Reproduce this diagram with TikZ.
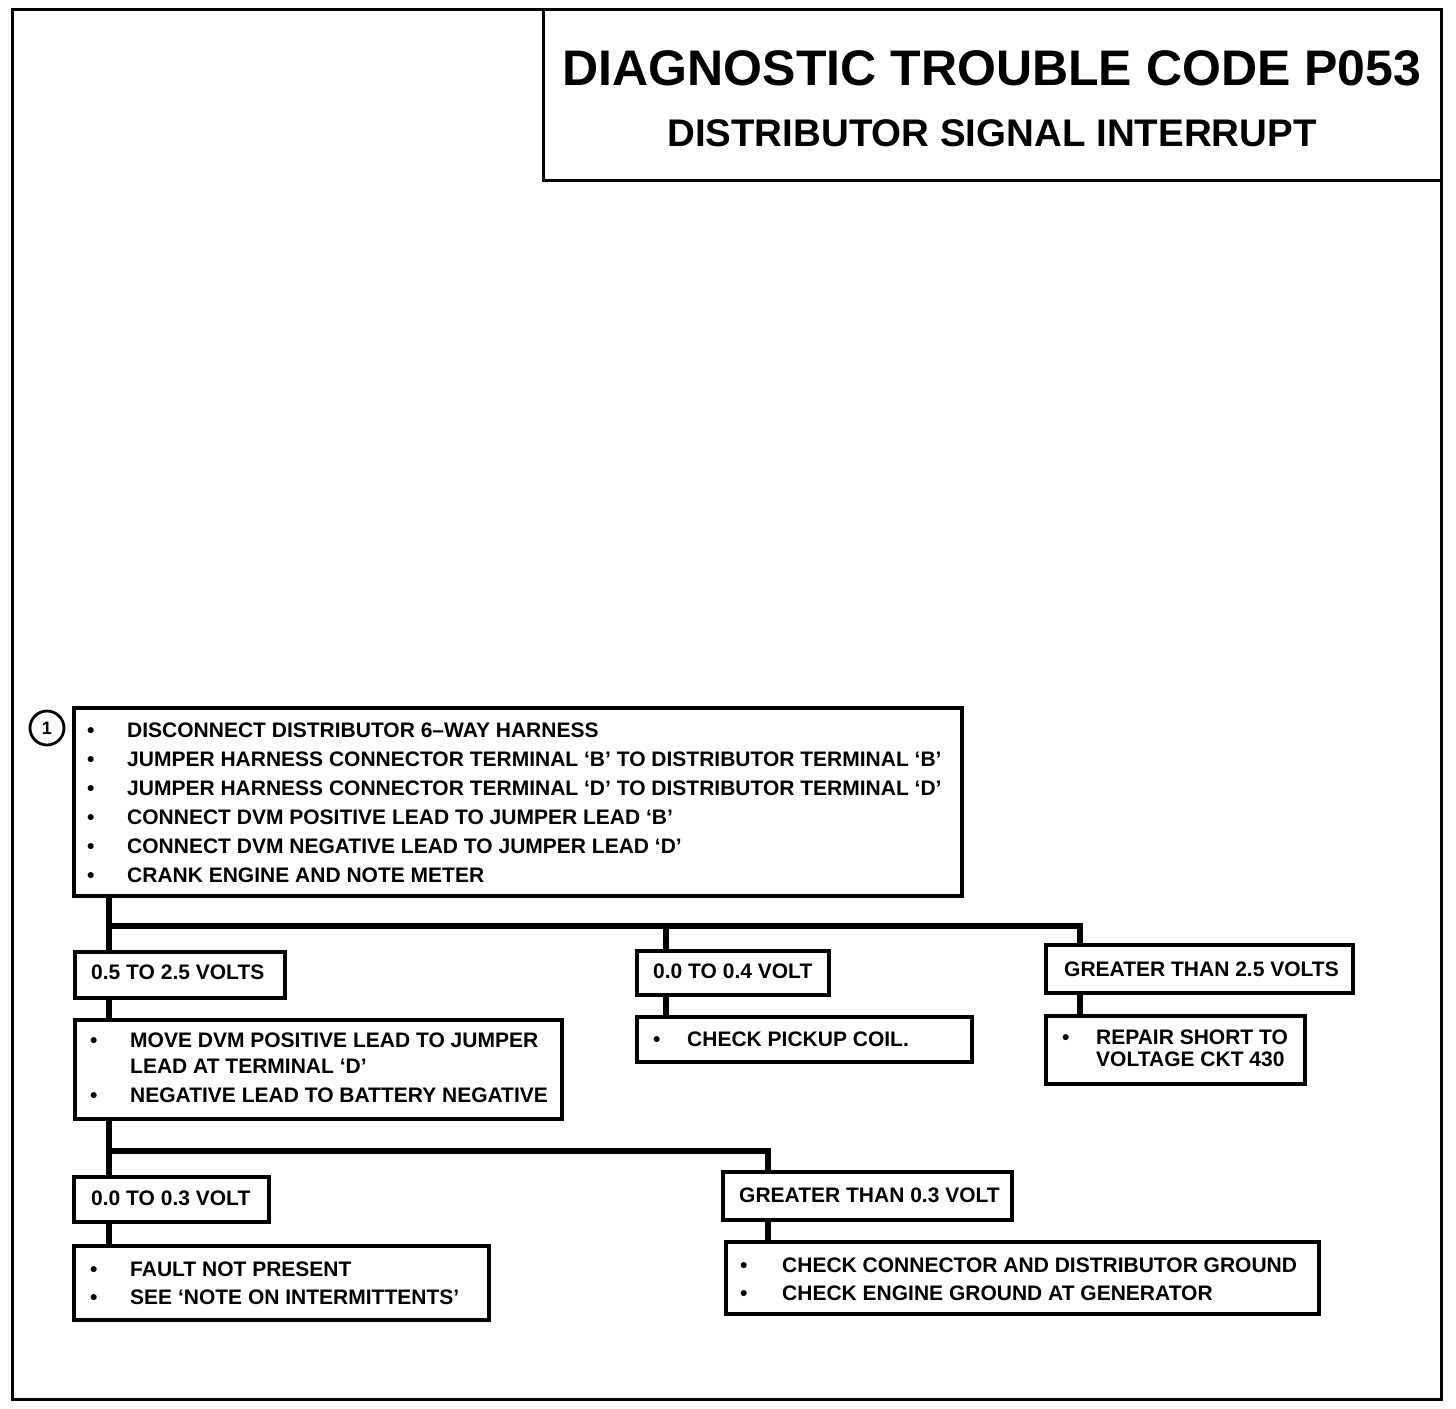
\documentclass[tikz,border=0pt]{standalone}
\usepackage{fontspec}
\setmainfont{Liberation Sans}
\usetikzlibrary{fit}
\begin{document}
\begin{tikzpicture}[x=1pt,y=-1pt,
  box/.style={draw, line width=3.8pt, inner sep=0pt, rectangle},
  conn/.style={line width=5.5pt, line join=miter},
  txt/.style={anchor=base west, inner sep=0pt, font=\fontsize{21}{24}\selectfont\bfseries},
  ttl/.style={anchor=base, inner sep=0pt, font=\bfseries},
]
\useasboundingbox (0,0) rectangle (1456,1408);
\fill[white] (0,0) rectangle (1456,1408);
% frame and title
\node[box, line width=3pt, fit={(12,9) (1441,1399)}] (frame) {};
\node[box, line width=3pt, fit={(543,9) (1441,180)}] (title) {};
\node[ttl, font=\fontsize{50}{60}\selectfont\bfseries] (t1) at (992,85) {DIAGNOSTIC TROUBLE CODE P053};
\node[ttl, font=\fontsize{38.5}{44}\selectfont\bfseries] (t2) at (992,146) {DISTRIBUTOR SIGNAL INTERRUPT};
% step 1
\node[draw, circle, line width=2.8pt, minimum size=34pt, inner sep=0pt, font=\fontsize{18}{18}\selectfont\bfseries] (n1) at (47,728) {1};
\node[box, fit={(74,708) (962,896)}] (s1) {};
\foreach \y/\t [count=\i] in {737/DISCONNECT DISTRIBUTOR 6–WAY HARNESS,
  766/JUMPER HARNESS CONNECTOR TERMINAL ‘B’ TO DISTRIBUTOR TERMINAL ‘B’,
  795/JUMPER HARNESS CONNECTOR TERMINAL ‘D’ TO DISTRIBUTOR TERMINAL ‘D’,
  824/CONNECT DVM POSITIVE LEAD TO JUMPER LEAD ‘B’,
  853/CONNECT DVM NEGATIVE LEAD TO JUMPER LEAD ‘D’,
  882/CRANK ENGINE AND NOTE METER}{
  \node[txt] (s1b\i) at (87,\y) {•};
  \node[txt] (s1t\i) at (127,\y) {\t};
}
% branch A
\node[box, fit={(75,952) (285,998)}] (a1) {};
\node[txt] (a1t) at (91,979) {0.5 TO 2.5 VOLTS};
\node[box, fit={(75,1020) (562,1119)}] (a2) {};
\node[txt] (a2b1) at (90,1047) {•};
\node[txt] (a2t1) at (130,1047) {MOVE DVM POSITIVE LEAD TO JUMPER};
\node[txt] (a2t2) at (130,1073) {LEAD AT TERMINAL ‘D’};
\node[txt] (a2b2) at (90,1102) {•};
\node[txt] (a2t3) at (130,1102) {NEGATIVE LEAD TO BATTERY NEGATIVE};
% branch B
\node[box, fit={(637,951) (829,995)}] (b1) {};
\node[txt] (b1t) at (653,978) {0.0 TO 0.4 VOLT};
\node[box, fit={(637,1017) (972,1062)}] (b2) {};
\node[txt] (b2b) at (653,1046) {•};
\node[txt] (b2t) at (687,1046) {CHECK PICKUP COIL.};
% branch C
\node[box, fit={(1046,945) (1353,993)}] (c1) {};
\node[txt] (c1t) at (1064,976) {GREATER THAN 2.5 VOLTS};
\node[box, fit={(1046,1016) (1305,1084)}] (c2) {};
\node[txt] (c2b) at (1062,1044) {•};
\node[txt] (c2t1) at (1096,1044) {REPAIR SHORT TO};
\node[txt] (c2t2) at (1096,1066) {VOLTAGE CKT 430};
% second level
\node[box, fit={(74,1177) (269,1222)}] (a3) {};
\node[txt] (a3t) at (91,1205) {0.0 TO 0.3 VOLT};
\node[box, fit={(74,1246) (489,1320)}] (a4) {};
\node[txt] (a4b1) at (90,1276) {•};
\node[txt] (a4t1) at (130,1276) {FAULT NOT PRESENT};
\node[txt] (a4b2) at (90,1304) {•};
\node[txt] (a4t2) at (130,1304) {SEE ‘NOTE ON INTERMITTENTS’};
\node[box, fit={(723,1172) (1012,1220)}] (d1) {};
\node[txt] (d1t) at (739,1202) {GREATER THAN 0.3 VOLT};
\node[box, fit={(726,1242) (1319,1314)}] (d2) {};
\node[txt] (d2b1) at (740,1272) {•};
\node[txt] (d2t1) at (782,1272) {CHECK CONNECTOR AND DISTRIBUTOR GROUND};
\node[txt] (d2b2) at (740,1300) {•};
\node[txt] (d2t2) at (782,1300) {CHECK ENGINE GROUND AT GENERATOR};
% connectors
\coordinate (busA) at (109,926);
\coordinate (busB) at (666,926);
\coordinate (busC) at (1080,926);
\draw[conn] (s1.south -| busA) -- (a1.north -| busA);
\draw[conn] (busA) -- (busC) -- (c1.north -| busC);
\draw[conn] (busB) -- (b1.north -| busB);
\draw[conn] (a1.south -| busA) -- (a2.north -| busA);
\draw[conn] (b1.south -| busB) -- (b2.north -| busB);
\draw[conn] (c1.south -| busC) -- (c2.north -| busC);
\coordinate (busD) at (109,1151);
\coordinate (busE) at (768,1151);
\draw[conn] (a2.south -| busD) -- (a3.north -| busD);
\draw[conn] (busD) -- (busE) -- (d1.north -| busE);
\draw[conn] (a3.south -| busD) -- (a4.north -| busD);
\draw[conn] (d1.south -| busE) -- (d2.north -| busE);
\end{tikzpicture}
\end{document}
